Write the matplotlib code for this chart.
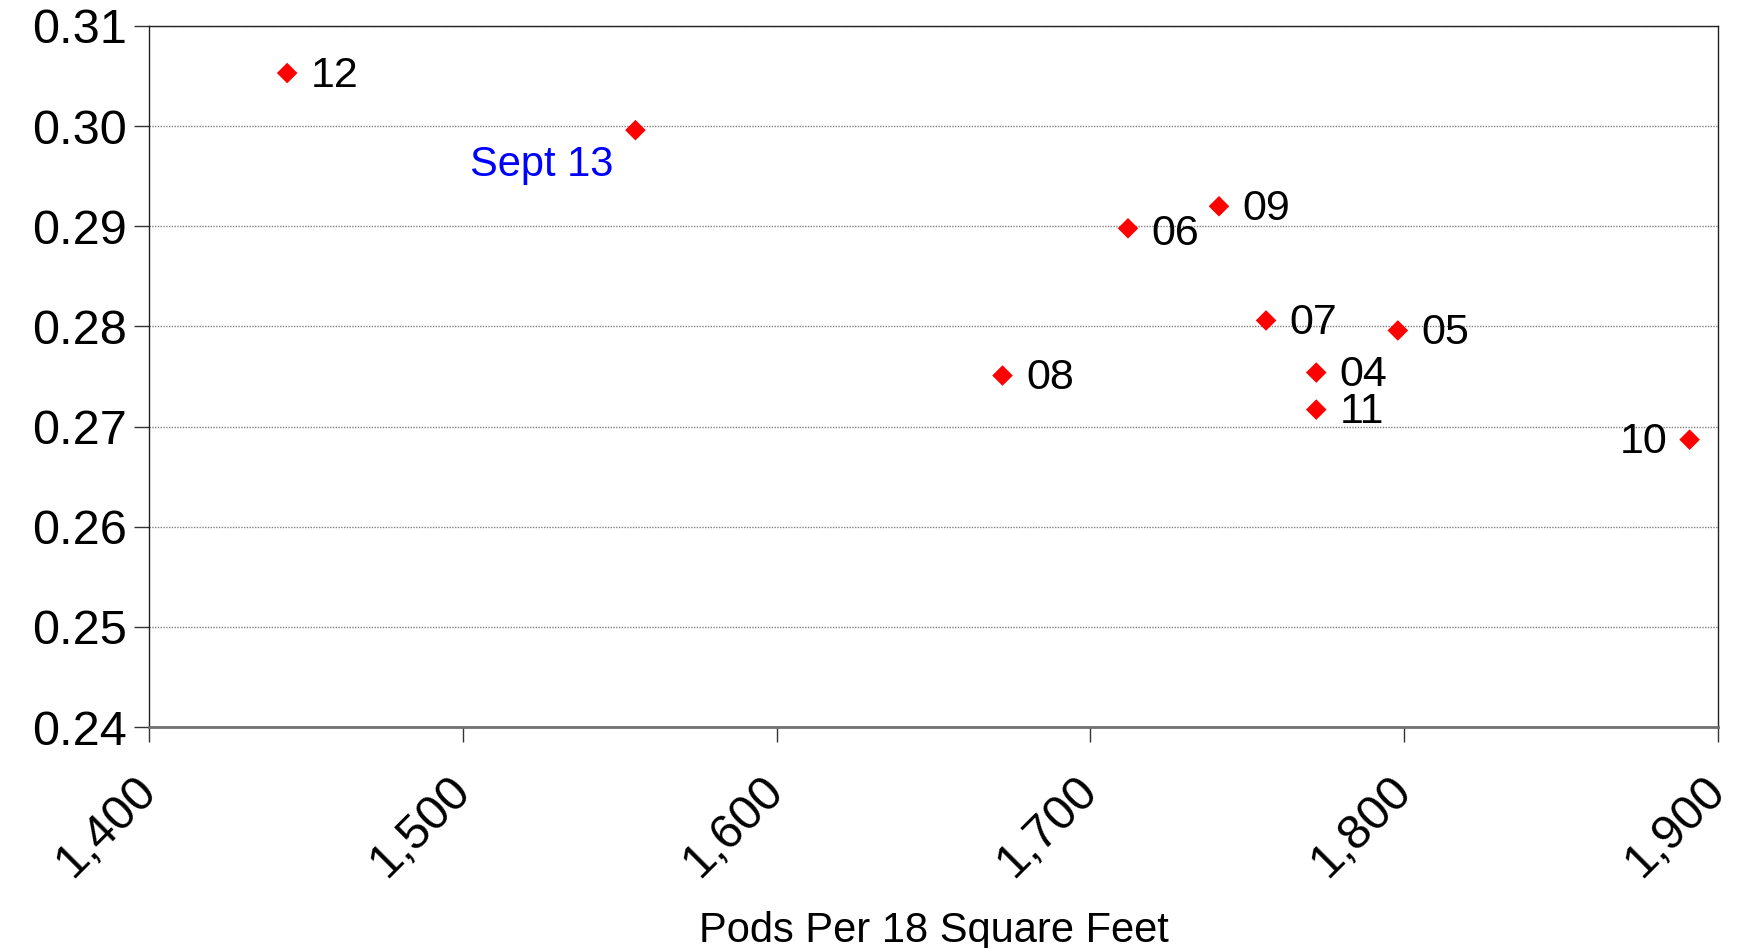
import matplotlib.pyplot as plt
from matplotlib.ticker import FuncFormatter, MultipleLocator

plt.rcParams['font.family'] = ['Liberation Sans', 'DejaVu Sans']

# pods per 18 sq ft vs. value, one point per year
labels = ['12', 'Sept 13', '06', '09', '07', '05', '08', '04', '11', '10']
pods = [1444, 1555, 1712, 1741, 1756, 1798, 1672, 1772, 1772, 1891]
values = [0.3053, 0.2996, 0.2898, 0.2920, 0.2806, 0.2796, 0.2751, 0.2754, 0.2717, 0.2687]

# where each label sits relative to its marker (points)
offsets = {'Sept 13': (-16, -25), '10': (-16, -2), '06': (17, -4)}

fig = plt.figure(figsize=(17.44, 9.48), dpi=100)
ax = fig.add_axes([0.0855, 0.233, 0.8995, 0.7396])

ax.scatter(pods, values, marker='D', s=110, color='#ff0000', edgecolors='none', zorder=3)

for lab, x, y in zip(labels, pods, values):
    dx, dy = offsets.get(lab, (17, -2))
    if lab == 'Sept 13':
        ax.annotate(lab, (x, y), xytext=(dx, dy), textcoords='offset points',
                    ha='right', va='center', fontsize=30, color='#0000ff')
    else:
        ax.annotate(lab, (x, y), xytext=(dx, dy), textcoords='offset points',
                    ha='right' if dx < 0 else 'left', va='center', fontsize=31, color='black')

ax.set_xlim(1400, 1900)
ax.set_ylim(0.24, 0.31)
ax.xaxis.set_major_locator(MultipleLocator(100))
ax.yaxis.set_major_locator(MultipleLocator(0.01))
ax.xaxis.set_major_formatter(FuncFormatter(lambda v, p: f'{v:,.0f}'))
ax.yaxis.set_major_formatter(FuncFormatter(lambda v, p: f'{v:.2f}'))

ax.grid(axis='y', linestyle=(0, (1, 1)), color='#808080', linewidth=1.0)
ax.set_axisbelow(True)

ax.tick_params(axis='both', direction='out', length=11, width=1, color='#333333', labelsize=35)
ax.tick_params(axis='y', pad=5)
ax.tick_params(axis='x', pad=30)
for t in ax.get_xticklabels():
    t.set_rotation(45)
    t.set_ha('right')
    t.set_rotation_mode('anchor')
    t.set_va('center')

for side in ['left', 'right', 'top']:
    ax.spines[side].set_color('#222222')
    ax.spines[side].set_linewidth(1.0)
ax.spines['bottom'].set_color('#707070')
ax.spines['bottom'].set_linewidth(2.0)

ax.set_xlabel('Pods Per 18 Square Feet', fontsize=30, labelpad=18)

fig.savefig('out.png', dpi=100)
